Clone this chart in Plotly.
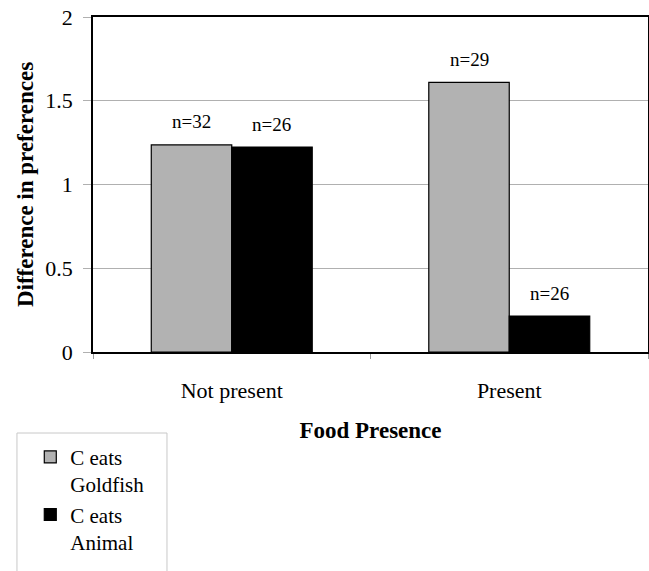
import plotly.graph_objects as go

categories = ["Not present", "Present"]
goldfish = [1.236, 1.61]
animal = [1.224, 0.215]
n_goldfish = ["n=32", "n=29"]
n_animal = ["n=26", "n=26"]

FONT = "Liberation Serif, Times New Roman, serif"

fig = go.Figure()
fig.add_trace(go.Bar(
    x=categories, y=goldfish, name="C eats<br>Goldfish",
    legendgroup="g",
    marker=dict(color="#b2b2b2", line=dict(color="#000000", width=1.2)),
))
fig.add_trace(go.Bar(
    x=categories, y=animal, name="C eats<br>Animal",
    legendgroup="a",
    marker=dict(color="#000000", line=dict(color="#000000", width=1.2)),
))

for cat, v, t in zip(categories, goldfish, n_goldfish):
    fig.add_annotation(x=cat, y=v, text=t, showarrow=False, xshift=-40, yshift=23,
                       font=dict(family=FONT, size=19, color="#000"))
for cat, v, t in zip(categories, animal, n_animal):
    fig.add_annotation(x=cat, y=v, text=t, showarrow=False, xshift=40, yshift=22,
                       font=dict(family=FONT, size=19, color="#000"))

# legend frame (extends past the bottom edge, as in the reference)
fig.add_shape(type="rect", xref="paper", yref="paper",
              x0=-0.137, x1=0.1333, y0=-0.70, y1=-0.2418,
              line=dict(color="#c8c8c8", width=1), fillcolor="rgba(0,0,0,0)")

fig.update_layout(
    width=649, height=571,
    margin=dict(l=93, r=1, t=17, b=219),
    paper_bgcolor="white", plot_bgcolor="white",
    barmode="group", bargap=0.42, bargroupgap=0,
    font=dict(family=FONT, size=21, color="#000"),
    showlegend=True,
    legend=dict(
        x=-0.113, y=-0.253, xanchor="left", yanchor="top",
        borderwidth=0, bgcolor="rgba(0,0,0,0)",
        font=dict(family=FONT, size=21, color="#000"),
        tracegroupgap=39, itemwidth=30, valign="top",
        traceorder="normal",
    ),
    xaxis=dict(
        automargin=False,
        showline=True, linecolor="#000", linewidth=1.5, mirror=True,
        ticks="outside", tickson="boundaries", ticklen=5, tickcolor="#999",
        tickfont=dict(family=FONT, size=22),
        ticklabelstandoff=18,
        title=dict(text="<b>Food Presence</b>", font=dict(family=FONT, size=23), standoff=20),
    ),
    yaxis=dict(
        automargin=False,
        range=[0, 2], dtick=0.5,
        showline=True, linecolor="#000", linewidth=1.5, mirror=True,
        showgrid=True, gridcolor="#b0b0b0", gridwidth=1.2,
        ticks="outside", ticklen=8, tickcolor="#b0b0b0",
        tickfont=dict(family=FONT, size=22),
        ticklabelstandoff=6,
        title=dict(text="<b>Difference in preferences</b>", font=dict(family=FONT, size=23), standoff=5),
        zeroline=False,
    ),
)

fig.write_html(
    "out.html",
    config={"responsive": False, "displayModeBar": False},
    post_script="document.body.style.margin='0';document.body.style.overflow='hidden';",
)
